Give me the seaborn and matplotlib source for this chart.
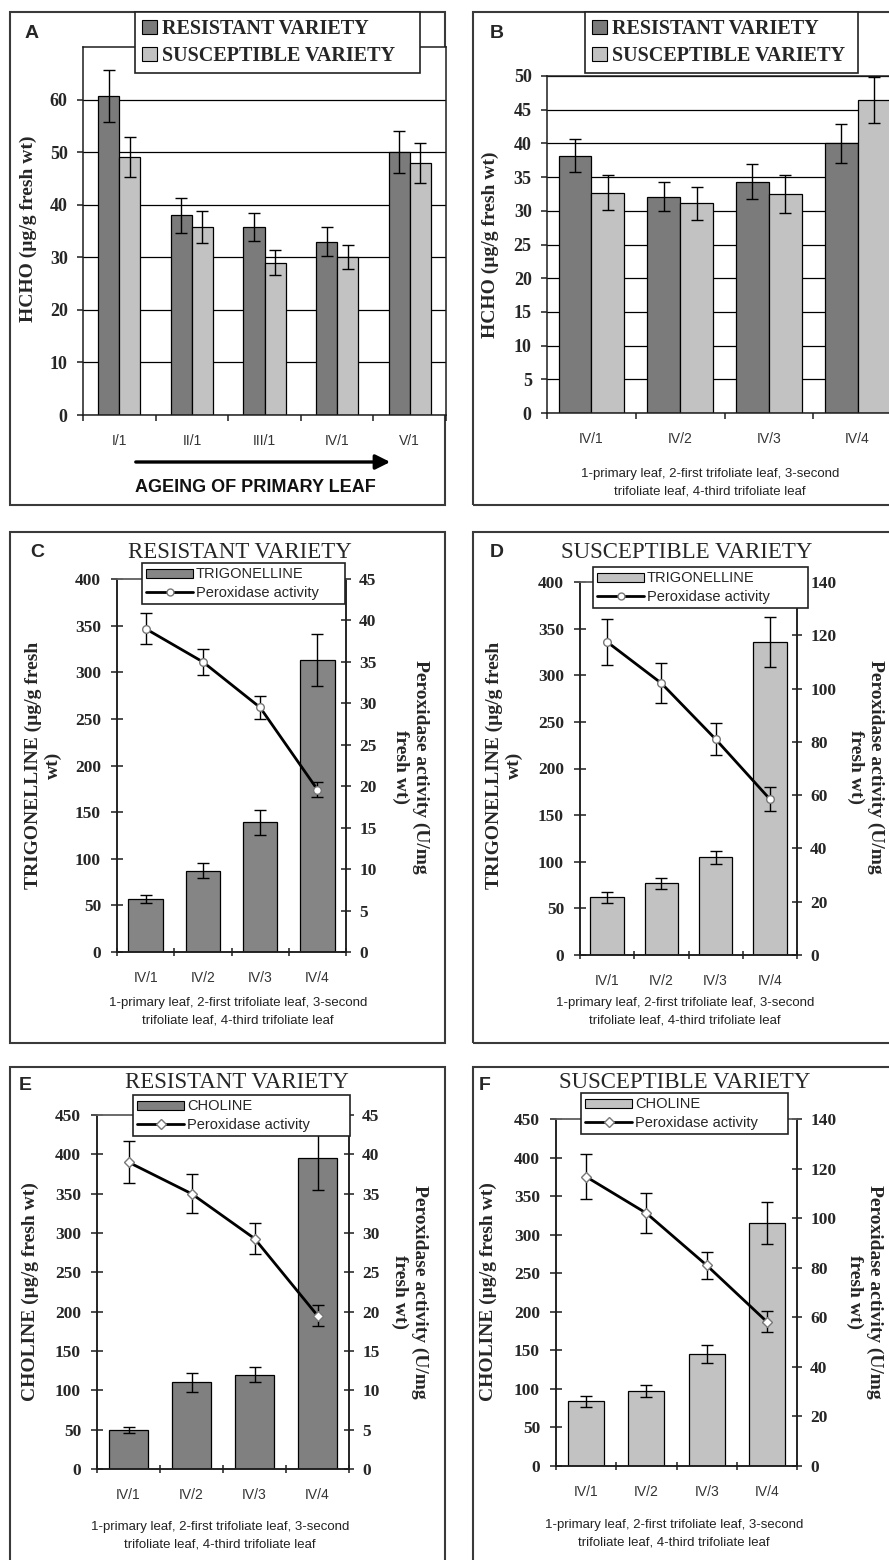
import numpy as np
import pandas as pd
import matplotlib
matplotlib.use("Agg")
import matplotlib.pyplot as plt
import seaborn as sns
from matplotlib.patches import Rectangle, Patch, FancyArrowPatch
from matplotlib.lines import Line2D
from matplotlib.ticker import FixedLocator

# ---------------- data ----------------
stages_A = ["I/1", "II/1", "III/1", "IV/1", "V/1"]
hcho_A_res = [60.7, 38.0, 35.8, 33.0, 50.0]
hcho_A_res_err = [5.0, 3.3, 2.7, 2.7, 4.0]
hcho_A_sus = [49.0, 35.8, 29.0, 30.0, 47.9]
hcho_A_sus_err = [3.8, 3.0, 2.4, 2.3, 3.8]

stages_B = ["IV/1", "IV/2", "IV/3", "IV/4"]
hcho_B_res = [38.2, 32.1, 34.3, 40.0]
hcho_B_res_err = [2.5, 2.2, 2.6, 2.9]
hcho_B_sus = [32.7, 31.1, 32.5, 46.5]
hcho_B_sus_err = [2.6, 2.5, 2.8, 3.4]

varieties = ["RESISTANT VARIETY", "SUSCEPTIBLE VARIETY"]

trig_res = [57, 87, 139, 313]
trig_res_err = [4.5, 8, 13, 28]
perox_C = [39.0, 35.0, 29.5, 19.6]
perox_C_err = [1.9, 1.6, 1.4, 0.9]

trig_sus = [62, 77, 105, 336]
trig_sus_err = [6, 6, 7, 27]
perox_D = [117.5, 102.0, 81.0, 58.5]
perox_D_err = [8.5, 7.5, 6.0, 4.5]

chol_res = [50, 110, 120, 395]
chol_res_err = [4, 12, 10, 40]
perox_E = [39.0, 35.0, 29.3, 19.5]
perox_E_err = [2.7, 2.5, 2.0, 1.3]

chol_sus = [84, 97, 145, 315]
chol_sus_err = [7, 8, 12, 27]
perox_F = [116.7, 102.0, 81.0, 58.2]
perox_F_err = [9.0, 8.0, 5.5, 4.3]

footnote = "1-primary leaf, 2-first trifoliate leaf, 3-second\ntrifoliate leaf, 4-third trifoliate leaf"

# ---------------- style ----------------
sns.set_theme(style="white")
plt.rcParams["font.family"] = ["Liberation Serif", "DejaVu Sans"]
SERIF = "Liberation Serif"
SANS = "Liberation Sans"
DARK = "#7b7b7b"
LIGHT = "#c2c2c2"
AXC = "#1e1e1e"

W, H = 889, 1560
fig = plt.figure(figsize=(W / 100, H / 100), dpi=100)
fig.patch.set_facecolor("white")


def fx(x):
    return x / W


def fy(y):
    return 1 - y / H


def frect(x0, y0, x1, y1):
    return [x0 / W, 1 - y1 / H, (x1 - x0) / W, (y1 - y0) / H]


def border(x0, y0, x1, y1):
    fig.add_artist(Rectangle((fx(x0), fy(y1)), (x1 - x0) / W, (y1 - y0) / H,
                             transform=fig.transFigure, fill=False,
                             edgecolor="#3a3a3a", lw=1.5, zorder=0))


def style_xcats(ax, n, tickdir, ticklen):
    ax.set_xlim(-0.5, n - 0.5)
    ax.xaxis.set_minor_locator(FixedLocator(np.arange(-0.5, n, 1.0)))
    ax.tick_params(axis="x", which="major", length=0, pad=14, labelsize=10,
                   labelcolor="#333333")
    ax.tick_params(axis="x", which="minor", length=ticklen, width=1.1,
                   direction=tickdir, color=AXC, bottom=True)
    for lab in ax.get_xticklabels():
        lab.set_fontfamily(SANS)


def bold_ticks(ax, size):
    for lab in ax.get_yticklabels():
        lab.set_fontfamily(SERIF)
        lab.set_fontweight("bold")
        lab.set_fontsize(size)


# ---------------- panels A & B (grouped bars) ----------------
def grouped_panel(rect, stages, res, res_err, sus, sus_err, ylim, yticks,
                  width, ylabel_xy, legend_box, xcap):
    ax = fig.add_axes(frect(*rect))
    df = pd.DataFrame({
        "stage": stages * 2,
        "value": list(res) + list(sus),
        "variety": [varieties[0]] * len(stages) + [varieties[1]] * len(stages),
    })
    ax.set_axisbelow(True)
    ax.yaxis.grid(True, color="black", lw=0.9)
    sns.barplot(data=df, x="stage", y="value", hue="variety",
                palette=[DARK, LIGHT], width=width, saturation=1,
                edgecolor="black", linewidth=0.9, legend=False, ax=ax, zorder=2)
    for cont, vals, errs in zip(ax.containers, [res, sus], [res_err, sus_err]):
        xs = [b.get_x() + b.get_width() / 2 for b in cont]
        ax.errorbar(xs, vals, yerr=errs, fmt="none", ecolor="black",
                    elinewidth=1.0, capsize=xcap, capthick=1.0, zorder=3)
    ax.set_ylim(*ylim)
    ax.set_yticks(yticks)
    ax.set_xlabel("")
    style_xcats(ax, len(stages), "out", 4)
    ax.tick_params(axis="y", length=4, direction="out", width=1.1, color=AXC,
                   pad=7, left=True)
    bold_ticks(ax, 13)
    for s in ["left", "bottom", "top", "right"]:
        ax.spines[s].set_visible(True)
        ax.spines[s].set_color(AXC)
        ax.spines[s].set_linewidth(1.1)
    ax.set_ylabel("HCHO (µg/g fresh wt)", fontfamily=SERIF, fontweight="bold",
                  fontsize=14, va="center")
    ax.yaxis.set_label_coords(fx(ylabel_xy[0]), fy(ylabel_xy[1]),
                              transform=fig.transFigure)
    handles = [Patch(facecolor=DARK, edgecolor="black", lw=0.8),
               Patch(facecolor=LIGHT, edgecolor="black", lw=0.8)]
    x0, y0, x1, y1 = legend_box
    leg = ax.legend(handles, varieties, loc="upper left",
                    bbox_to_anchor=(fx(x0), fy(y1), (x1 - x0) / W, (y1 - y0) / H),
                    bbox_transform=fig.transFigure, mode="expand",
                    borderaxespad=0, fancybox=False, framealpha=1,
                    handlelength=0.75, handleheight=0.75, handletextpad=0.25,
                    labelspacing=0.35, borderpad=0.35,
                    prop={"family": SERIF, "weight": "bold", "size": 14.5})
    leg.get_frame().set_edgecolor("#222222")
    leg.get_frame().set_linewidth(1.2)
    leg.set_zorder(10)
    return ax


border(10, 12, 445, 505)
axA = grouped_panel((83, 47, 446, 415), stages_A, hcho_A_res, hcho_A_res_err,
                    hcho_A_sus, hcho_A_sus_err, (0, 70), range(0, 61, 10),
                    0.58, (28, 229), (135, 12, 420, 76), 4.5)
fig.text(fx(32), fy(33), "A", fontfamily=SANS, fontweight="bold", fontsize=14,
         ha="center", va="center")
fig.add_artist(FancyArrowPatch((fx(133), fy(462)), (fx(393), fy(462)),
                               transform=fig.transFigure, arrowstyle="-|>",
                               mutation_scale=22, lw=2.4, color="black"))
fig.text(fx(255), fy(488), "AGEING OF PRIMARY LEAF", fontfamily=SANS,
         fontweight="bold", fontsize=13, ha="center", va="center", color="#111111")

border(473, 12, 900, 505)
axB = grouped_panel((547, 76, 902, 413), stages_B, hcho_B_res, hcho_B_res_err,
                    hcho_B_sus, hcho_B_sus_err, (0, 50), range(0, 51, 5),
                    0.74, (490, 245), (585, 12, 858, 78), 4.5)
fig.text(fx(497), fy(33), "B", fontfamily=SANS, fontweight="bold", fontsize=14,
         ha="center", va="center")
fig.text(fx(710), fy(483), footnote, fontfamily=SANS, fontsize=9.5,
         ha="center", va="center", linespacing=1.6, color="#222222")


# ---------------- panels C-F (bars + peroxidase line) ----------------
def dual_panel(rect, cats, bars, bars_err, perox, perox_err, color, width,
               ylim_l, ticks_l, ylim_r, ticks_r, bar_label, ylabel_l, ylabel_r,
               ylab_l_xy, ylab_r_xy, legend_box, marker):
    ax = fig.add_axes(frect(*rect))
    sns.barplot(x=cats, y=bars, color=color, width=width, saturation=1,
                edgecolor="black", linewidth=0.9, ax=ax, zorder=2)
    xs = [b.get_x() + b.get_width() / 2 for b in ax.containers[0]]
    ax.errorbar(xs, bars, yerr=bars_err, fmt="none", ecolor="black",
                elinewidth=1.0, capsize=4.5, capthick=1.0, zorder=3)
    ax.set_ylim(*ylim_l)
    ax.set_yticks(ticks_l)
    ax.set_xlabel("")

    ax2 = ax.twinx()
    pos = np.arange(len(cats))
    ax2.errorbar(pos, perox, yerr=perox_err, fmt="none", ecolor="black",
                 elinewidth=1.0, capsize=4.5, capthick=1.0, zorder=3)
    sns.lineplot(x=pos, y=perox, ax=ax2, color="black", lw=2.0, marker=marker,
                 markersize=5.5 if marker == "o" else 5, markerfacecolor="white",
                 markeredgecolor="#777777", markeredgewidth=1.0, zorder=4)
    ax2.set_ylim(*ylim_r)
    ax2.set_yticks(ticks_r)
    ax2.set_ylabel("")

    style_xcats(ax, len(cats), "inout", 6)
    ax.tick_params(axis="y", length=9, direction="inout", width=1.1, color=AXC,
                   pad=7, left=True)
    ax2.tick_params(axis="y", length=7, direction="inout", width=1.1, color=AXC,
                    pad=6, right=True)
    bold_ticks(ax, 12.5)
    bold_ticks(ax2, 12.5)
    for a in (ax, ax2):
        for s in ["left", "bottom", "top", "right"]:
            a.spines[s].set_visible(True)
            a.spines[s].set_color(AXC)
            a.spines[s].set_linewidth(1.1)
    ax.spines["top"].set_color("#666666")
    ax2.spines["top"].set_color("#666666")
    ax.set_xlim(-0.5, len(cats) - 0.5)

    ax.set_ylabel(ylabel_l, fontfamily=SERIF, fontweight="bold", fontsize=14,
                  va="center", ha="center", multialignment="center")
    ax.yaxis.set_label_coords(fx(ylab_l_xy[0]), fy(ylab_l_xy[1]),
                              transform=fig.transFigure)
    ax2.set_ylabel(ylabel_r, fontfamily=SERIF, fontweight="bold", fontsize=14,
                   rotation=270, va="center", ha="center",
                   multialignment="center")
    ax2.yaxis.set_label_coords(fx(ylab_r_xy[0]), fy(ylab_r_xy[1]),
                               transform=fig.transFigure)

    handles = [Patch(facecolor=color, edgecolor="black", lw=0.8),
               Line2D([], [], color="black", lw=2.0, marker=marker,
                      markersize=5, markerfacecolor="white",
                      markeredgecolor="#777777")]
    x0, y0, x1, y1 = legend_box
    leg = ax2.legend(handles, [bar_label, "Peroxidase activity"],
                     loc="upper left",
                     bbox_to_anchor=(fx(x0), fy(y1), (x1 - x0) / W, (y1 - y0) / H),
                     bbox_transform=fig.transFigure, mode="expand",
                     borderaxespad=0, fancybox=False, framealpha=1,
                     handlelength=3.2, handleheight=0.6, handletextpad=0.2,
                     labelspacing=0.3, borderpad=0.3,
                     prop={"family": SANS, "size": 10.5})
    leg.get_frame().set_edgecolor("#222222")
    leg.get_frame().set_linewidth(1.2)
    leg.set_zorder(10)
    return ax, ax2


# C
border(10, 532, 445, 1043)
dual_panel((117, 579, 346, 952), stages_B, trig_res, trig_res_err, perox_C,
           perox_C_err, "#858585", 0.6, (0, 400), range(0, 401, 50),
           (0, 45), range(0, 46, 5), "TRIGONELLINE",
           "TRIGONELLINE (µg/g fresh\nwt)", "Peroxidase activity (U/mg\nfresh wt)",
           (43, 765), (411, 767), (142, 563, 345, 609), "o")
fig.text(fx(37), fy(552), "C", fontfamily=SANS, fontweight="bold", fontsize=14,
         ha="center", va="center")
fig.text(fx(240), fy(552), "RESISTANT VARIETY", fontfamily=SERIF, fontsize=16.5,
         ha="center", va="center")
fig.text(fx(238), fy(1012), footnote, fontfamily=SANS, fontsize=9.5,
         ha="center", va="center", linespacing=1.6, color="#222222")

# D
border(473, 532, 900, 1043)
dual_panel((580, 582, 797, 955), stages_B, trig_sus, trig_sus_err, perox_D,
           perox_D_err, LIGHT, 0.62, (0, 400), range(0, 401, 50),
           (0, 140), range(0, 141, 20), "TRIGONELLINE",
           "TRIGONELLINE (µg/g fresh\nwt)", "Peroxidase activity (U/mg\nfresh wt)",
           (504, 765), (866, 767), (593, 567, 808, 614), "o")
fig.text(fx(497), fy(552), "D", fontfamily=SANS, fontweight="bold", fontsize=14,
         ha="center", va="center")
fig.text(fx(687), fy(552), "SUSCEPTIBLE VARIETY", fontfamily=SERIF, fontsize=16.5,
         ha="center", va="center")
fig.text(fx(685), fy(1012), footnote, fontfamily=SANS, fontsize=9.5,
         ha="center", va="center", linespacing=1.6, color="#222222")

# E
border(10, 1067, 445, 1580)
dual_panel((97, 1115, 349, 1469), stages_B, chol_res, chol_res_err, perox_E,
           perox_E_err, "#808080", 0.63, (0, 450), range(0, 451, 50),
           (0, 45), range(0, 46, 5), "CHOLINE",
           "CHOLINE (µg/g fresh wt)", "Peroxidase activity (U/mg\nfresh wt)",
           (30, 1292), (410, 1292), (133, 1095, 350, 1140), "D")
fig.text(fx(25), fy(1085), "E", fontfamily=SANS, fontweight="bold", fontsize=14,
         ha="center", va="center")
fig.text(fx(237), fy(1083), "RESISTANT VARIETY", fontfamily=SERIF, fontsize=16.5,
         ha="center", va="center")
fig.text(fx(220), fy(1536), footnote, fontfamily=SANS, fontsize=9.5,
         ha="center", va="center", linespacing=1.6, color="#222222")

# F
border(473, 1067, 900, 1580)
dual_panel((556, 1119, 797, 1466), stages_B, chol_sus, chol_sus_err, perox_F,
           perox_F_err, LIGHT, 0.6, (0, 450), range(0, 451, 50),
           (0, 140), range(0, 141, 20), "CHOLINE",
           "CHOLINE (µg/g fresh wt)", "Peroxidase activity (U/mg\nfresh wt)",
           (488, 1292), (865, 1292), (581, 1093, 788, 1142), "D")
fig.text(fx(485), fy(1085), "F", fontfamily=SANS, fontweight="bold", fontsize=14,
         ha="center", va="center")
fig.text(fx(685), fy(1083), "SUSCEPTIBLE VARIETY", fontfamily=SERIF, fontsize=16.5,
         ha="center", va="center")
fig.text(fx(674), fy(1534), footnote, fontfamily=SANS, fontsize=9.5,
         ha="center", va="center", linespacing=1.6, color="#222222")

fig.savefig("out.png", dpi=100)
